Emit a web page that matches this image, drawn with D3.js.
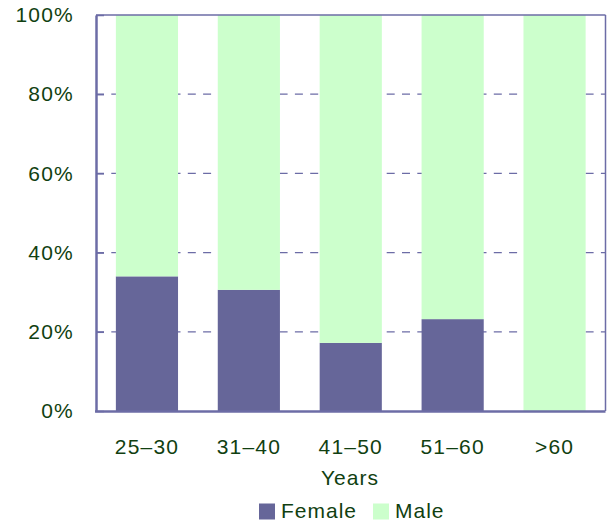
<!DOCTYPE html>
<html>
<head>
<meta charset="utf-8">
<script src="https://cdn.jsdelivr.net/npm/d3@7"></script>
<style>
  html, body { margin: 0; padding: 0; background: #fff; }
  svg { display: block; }
  text { font-family: "Liberation Sans", Arial, sans-serif; fill: #113f11; }
</style>
</head>
<body>
<svg id="chart" width="607" height="525"></svg>
<script>
// Share of each gender within every age group (percent)
const categories = ["25–30", "31–40", "41–50", "51–60", ">60"];
const female = [34, 30.6, 17.2, 23.2, 0];
const male = [66, 69.4, 82.8, 76.8, 100];
const yTicks = [0, 20, 40, 60, 80, 100];
const seriesNames = ["Female", "Male"];
const seriesColors = ["#666699", "#ccffcc"];

const svg = d3.select("#chart");
const margin = { left: 96, right: 1.5, top: 15, bottom: 114 };
const W = 607, H = 525;
const plotW = W - margin.left - margin.right;
const plotH = H - margin.top - margin.bottom;

const x = d3.scaleBand().domain(categories).range([margin.left, margin.left + plotW])
  .paddingInner(0.39).paddingOuter(0.195);
const y = d3.scaleLinear().domain([0, 100]).range([margin.top + plotH, margin.top]);

const axisColor = "#6c6ca6";
const fontSize = 21;
const spacing = 1.2;

// dashed gridlines
svg.append("g").selectAll("line")
  .data(yTicks.filter(t => t > 0 && t < 100))
  .join("line")
  .attr("x1", margin.left).attr("x2", margin.left + plotW)
  .attr("y1", d => y(d)).attr("y2", d => y(d))
  .attr("stroke", axisColor).attr("stroke-width", 1.3)
  .attr("stroke-dasharray", "8,7.3");

// stacked bars
const rows = categories.map((c, i) => ({ cat: c, Female: female[i], Male: male[i] }));
const stacked = d3.stack().keys(seriesNames)(rows);
svg.append("g").selectAll("g")
  .data(stacked)
  .join("g")
  .attr("fill", (d, i) => seriesColors[i])
  .selectAll("rect")
  .data(d => d)
  .join("rect")
  .attr("x", d => x(d.data.cat))
  .attr("width", x.bandwidth())
  .attr("y", d => y(d[1]))
  .attr("height", d => y(d[0]) - y(d[1]));

// frame: top and right borders
svg.append("line")
  .attr("x1", margin.left).attr("x2", margin.left + plotW)
  .attr("y1", margin.top).attr("y2", margin.top)
  .attr("stroke", axisColor).attr("stroke-width", 1.5);
svg.append("line")
  .attr("x1", margin.left + plotW).attr("x2", margin.left + plotW)
  .attr("y1", margin.top).attr("y2", margin.top + plotH)
  .attr("stroke", axisColor).attr("stroke-width", 1.5);

// y axis
const yAxis = svg.append("g")
  .attr("transform", `translate(${margin.left},0)`)
  .call(d3.axisLeft(y).tickValues(yTicks).tickFormat(d => d + "%").tickSizeInner(-8).tickSizeOuter(0).tickPadding(22));
yAxis.select(".domain").attr("stroke", axisColor).attr("stroke-width", 2.5);
yAxis.selectAll(".tick line").attr("stroke", axisColor).attr("stroke-width", 1.5);
yAxis.selectAll(".tick text")
  .attr("font-size", fontSize).attr("letter-spacing", spacing)
  .attr("font-family", null).attr("fill", null);

// x axis
const xAxis = svg.append("g")
  .attr("transform", `translate(0,${margin.top + plotH})`)
  .call(d3.axisBottom(x).tickSize(0).tickPadding(28));
xAxis.select(".domain").attr("stroke", axisColor).attr("stroke-width", 2.5)
  .attr("d", `M${margin.left - 1},0.5H${margin.left + plotW}`);
xAxis.selectAll(".tick text")
  .attr("font-size", fontSize).attr("letter-spacing", spacing)
  .attr("font-family", null).attr("fill", null);

// axis title
svg.append("text")
  .attr("x", 350).attr("y", 485)
  .attr("text-anchor", "middle")
  .attr("font-size", fontSize).attr("letter-spacing", 1)
  .text("Years");

// legend
const legend = svg.append("g");
const legendX = [259, 373];
seriesNames.forEach((name, i) => {
  const g = legend.append("g").attr("transform", `translate(${legendX[i]},0)`);
  g.append("rect").attr("x", 0).attr("y", 503.5).attr("width", 16).attr("height", 16)
    .attr("fill", seriesColors[i]);
  g.append("text").attr("x", 22).attr("y", 517.5)
    .attr("font-size", fontSize).attr("letter-spacing", 1)
    .text(name);
});
</script>
</body>
</html>
